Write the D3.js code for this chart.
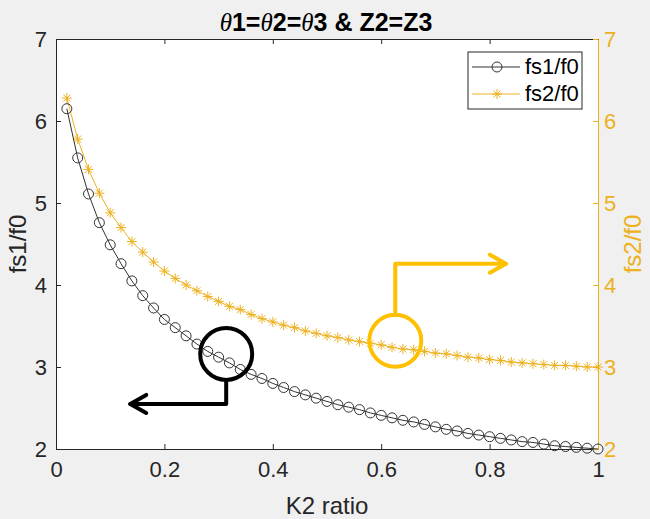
<!DOCTYPE html>
<meta charset="utf-8">
<html>
<head>
  <script src="https://d3js.org/d3.v7.min.js" charset="utf-8"></script>
</head>

<style>
body {
    margin: 0;
    background-color: #f0f0f0;
}

text {
    font-family: "Liberation Sans", Arial, sans-serif;
}

.axis-label {
    font-size: 24px;
    text-anchor: middle;
}

#title {
    font-size: 25px;
    font-weight: bold;
    text-anchor: middle;
}
</style>

<body>

<div id="container"></div>

<script type="text/javascript">

// K2 ratio (x) and the two normalised spurious frequencies
var kRatio = [0.02, 0.04, 0.06, 0.08, 0.10, 0.12, 0.14, 0.16, 0.18, 0.20,
              0.22, 0.24, 0.26, 0.28, 0.30, 0.32, 0.34, 0.36, 0.38, 0.40,
              0.42, 0.44, 0.46, 0.48, 0.50, 0.52, 0.54, 0.56, 0.58, 0.60,
              0.62, 0.64, 0.66, 0.68, 0.70, 0.72, 0.74, 0.76, 0.78, 0.80,
              0.82, 0.84, 0.86, 0.88, 0.90, 0.92, 0.94, 0.96, 0.98, 1.00]

var fs1 = [6.15, 5.55, 5.11, 4.76, 4.49, 4.26, 4.05, 3.87, 3.72, 3.58,
           3.48, 3.38, 3.28, 3.19, 3.12, 3.05, 2.97, 2.91, 2.86, 2.80,
           2.75, 2.70, 2.66, 2.62, 2.58, 2.54, 2.51, 2.48, 2.44, 2.41,
           2.38, 2.35, 2.33, 2.30, 2.27, 2.24, 2.22, 2.19, 2.17, 2.15,
           2.13, 2.11, 2.09, 2.08, 2.06, 2.04, 2.03, 2.02, 2.01, 2.00]

var fs2 = [6.28, 5.78, 5.41, 5.12, 4.88, 4.70, 4.53, 4.40, 4.28, 4.17,
           4.08, 4.00, 3.93, 3.86, 3.80, 3.74, 3.70, 3.64, 3.59, 3.55,
           3.51, 3.48, 3.44, 3.41, 3.38, 3.36, 3.33, 3.31, 3.29, 3.27,
           3.24, 3.22, 3.21, 3.19, 3.17, 3.16, 3.14, 3.12, 3.11, 3.09,
           3.08, 3.06, 3.05, 3.04, 3.03, 3.02, 3.02, 3.01, 3.00, 3.00]

var xTicks = [0, 0.2, 0.4, 0.6, 0.8, 1]
var xTickLabels = ["0", "0.2", "0.4", "0.6", "0.8", "1"]
var yTicks = [2, 3, 4, 5, 6, 7]

var seriesNames = ["fs1/f0", "fs2/f0"]

// annotation circles + elbow arrows, in data units
var callouts = [
  {cx: 0.314, cy: 3.16, corner: [0.314, 2.55], tip: [0.137, 2.55], color: "#000000"},
  {cx: 0.626, cy: 3.32, corner: [0.626, 4.26], tip: [0.830, 4.26], color: "#ffc000"}
]

var width = 650;
var height = 519;
var margin = {left: 56, right: 52, top: 39, bottom: 70}

var darkColor = "#262626"
var lineColor1 = "#333333"
var orange = "#edb120"

var svg = d3.select("#container")
            .append("svg")
            .attr("width", width)
            .attr("height", height)

var x = d3.scaleLinear().domain([0, 1]).range([margin.left, width - margin.right])
var y = d3.scaleLinear().domain([2, 7]).range([height - margin.bottom, margin.top])

// plot background
svg.append("rect")
   .attr("x", x(0))
   .attr("y", y(7))
   .attr("width", x(1) - x(0))
   .attr("height", y(2) - y(7))
   .attr("fill", "white")

// axes, ticks pointing inwards like MATLAB
var bottomAxis = svg.append("g")
   .attr("transform", "translate(0," + y(2) + ")")
   .call(d3.axisBottom(x).tickValues(xTicks).tickFormat((d, i) => xTickLabels[i])
           .tickSizeInner(-5).tickSizeOuter(0).tickPadding(12))

var topAxis = svg.append("g")
   .attr("transform", "translate(0," + y(7) + ")")
   .call(d3.axisTop(x).tickValues(xTicks).tickFormat("")
           .tickSizeInner(-5).tickSizeOuter(0))

var leftAxis = svg.append("g")
   .attr("transform", "translate(" + x(0) + ",0)")
   .call(d3.axisLeft(y).tickValues(yTicks).tickFormat(d3.format("d"))
           .tickSizeInner(-5).tickSizeOuter(0).tickPadding(9))

var rightAxis = svg.append("g")
   .attr("transform", "translate(" + x(1) + ",0)")
   .call(d3.axisRight(y).tickValues(yTicks).tickFormat(d3.format("d"))
           .tickSizeInner(-5).tickSizeOuter(0).tickPadding(6))

bottomAxis.selectAll("path, line").attr("stroke", darkColor)
topAxis.selectAll("path, line").attr("stroke", darkColor)
leftAxis.selectAll("path, line").attr("stroke", darkColor)
bottomAxis.selectAll("text").attr("fill", darkColor)
leftAxis.selectAll("text").attr("fill", darkColor)
rightAxis.selectAll("path, line").attr("stroke", orange)
rightAxis.selectAll("text").attr("fill", orange)
svg.selectAll(".tick text").style("font-size", "22px")

// labels and title
svg.append("text")
   .attr("class", "axis-label")
   .attr("x", x(0.5))
   .attr("y", height - 5)
   .attr("fill", darkColor)
   .text("K2 ratio")

svg.append("text")
   .attr("class", "axis-label")
   .attr("transform", "translate(26," + y(4.5) + ") rotate(-90)")
   .attr("fill", darkColor)
   .text("fs1/f0")

svg.append("text")
   .attr("class", "axis-label")
   .attr("transform", "translate(641," + y(4.5) + ") rotate(-90)")
   .attr("fill", orange)
   .text("fs2/f0")

var title = svg.append("text")
   .attr("id", "title")
   .attr("x", width / 2 + 1)
   .attr("y", 31)
   .attr("fill", "black")

var titleParts = [["\u03B8", true], ["1=", false], ["\u03B8", true], ["2=", false],
                  ["\u03B8", true], ["3 & Z2=Z3", false]]
titleParts.forEach(function(p) {
  var t = title.append("tspan").text(p[0])
  if (p[1]) t.style("font-family", "'Liberation Serif', 'Times New Roman', serif")
             .style("font-style", "italic").style("font-weight", "normal")
})

// series
var line = d3.line().x((d) => x(d[0])).y((d) => y(d[1]))
var pts1 = kRatio.map((k, i) => [k, fs1[i]])
var pts2 = kRatio.map((k, i) => [k, fs2[i]])

var asterisk = "M-5,0L5,0M0,-5L0,5M-3.5,-3.5L3.5,3.5M-3.5,3.5L3.5,-3.5"

svg.append("path")
   .datum(pts2)
   .attr("d", line)
   .attr("fill", "none")
   .attr("stroke", orange)
   .attr("stroke-width", 1)

svg.append("g").selectAll("path")
   .data(pts2)
   .enter()
   .append("path")
   .attr("transform", (d) => "translate(" + x(d[0]) + "," + y(d[1]) + ")")
   .attr("d", asterisk)
   .attr("stroke", orange)
   .attr("stroke-width", 1)

svg.append("path")
   .datum(pts1)
   .attr("d", line)
   .attr("fill", "none")
   .attr("stroke", lineColor1)
   .attr("stroke-width", 1)

svg.append("g").selectAll("circle")
   .data(pts1)
   .enter()
   .append("circle")
   .attr("cx", (d) => x(d[0]))
   .attr("cy", (d) => y(d[1]))
   .attr("r", 5)
   .attr("fill", "none")
   .attr("stroke", lineColor1)
   .attr("stroke-width", 1)

// callouts
var calloutR = 26
callouts.forEach(function(c) {
  var g = svg.append("g")
             .attr("fill", "none")
             .attr("stroke", c.color)
             .attr("stroke-width", 4)
             .attr("stroke-linecap", "round")
             .attr("stroke-linejoin", "round")
  g.append("circle")
   .attr("cx", x(c.cx))
   .attr("cy", y(c.cy))
   .attr("r", calloutR)
  var dirY = y(c.corner[1]) > y(c.cy) ? 1 : -1
  var dirX = x(c.tip[0]) > x(c.corner[0]) ? 1 : -1
  g.append("path")
   .attr("d", "M" + x(c.cx) + "," + (y(c.cy) + dirY * calloutR)
            + "L" + x(c.corner[0]) + "," + y(c.corner[1])
            + "L" + x(c.tip[0]) + "," + y(c.tip[1]))
  g.append("path")
   .attr("d", "M" + (x(c.tip[0]) - dirX * 16) + "," + (y(c.tip[1]) - 9)
            + "L" + x(c.tip[0]) + "," + y(c.tip[1])
            + "L" + (x(c.tip[0]) - dirX * 16) + "," + (y(c.tip[1]) + 9))
})

// legend
var legend = svg.append("g").attr("transform", "translate(468,52)")

legend.append("rect")
      .attr("width", 114)
      .attr("height", 57)
      .attr("fill", "white")
      .attr("stroke", darkColor)
      .attr("stroke-width", 1)

var legendRows = legend.selectAll("g")
      .data(seriesNames)
      .enter()
      .append("g")
      .attr("transform", (d, i) => "translate(0," + (15 + i * 27) + ")")

legendRows.append("line")
      .attr("x1", 4)
      .attr("x2", 52)
      .attr("stroke", (d, i) => i == 0 ? lineColor1 : orange)

legendRows.filter((d, i) => i == 0)
      .append("circle")
      .attr("cx", 29)
      .attr("r", 5)
      .attr("fill", "none")
      .attr("stroke", lineColor1)

legendRows.filter((d, i) => i == 1)
      .append("path")
      .attr("transform", "translate(29,0)")
      .attr("d", asterisk)
      .attr("stroke", orange)

legendRows.append("text")
      .attr("x", 57)
      .attr("y", 7)
      .attr("fill", "black")
      .style("font-size", "22px")
      .text((d) => d)

</script>
</body>
</html>
